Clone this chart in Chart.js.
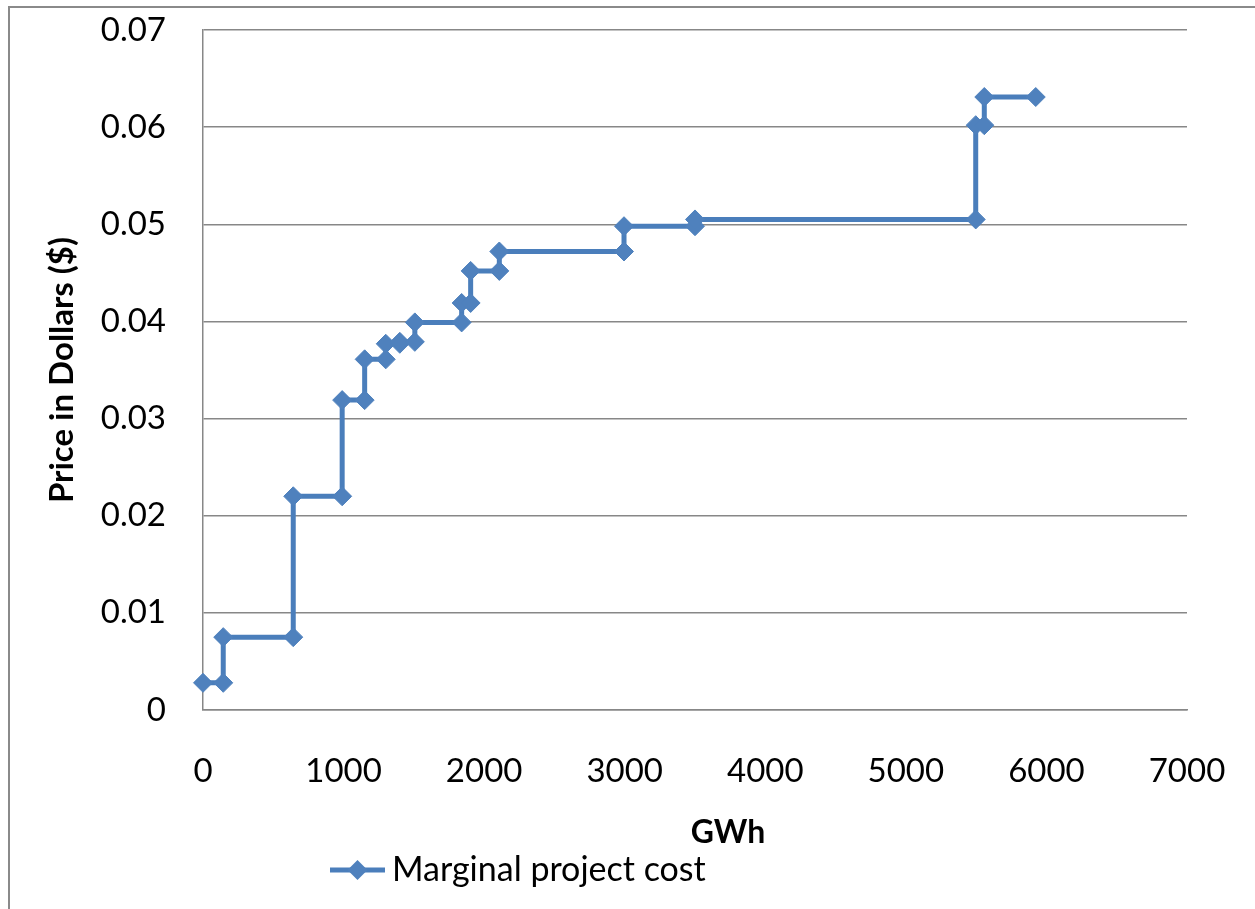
<!DOCTYPE html>
<html>
<head>
<meta charset="utf-8">
<script src="https://cdn.jsdelivr.net/npm/chart.js@4/dist/chart.umd.min.js"></script>
<style>
  html, body { margin: 0; padding: 0; background: #ffffff; }
  #wrap { position: relative; width: 1255px; height: 909px; }
</style>
</head>
<body>
<div id="wrap"><canvas id="c" width="1255" height="909"></canvas></div>
<script>
// ---- Data ----
const seriesLabel = 'Marginal project cost';
const gwh = [0, 144, 144, 642, 642, 990, 990, 1150, 1150, 1300, 1300, 1400, 1400, 1507, 1507, 1840, 1840, 1904, 1904, 2108, 2108, 2995, 2995, 3500, 3500, 5497, 5497, 5558, 5558, 5924];
const price = [0.0028, 0.0028, 0.0075, 0.0075, 0.0220, 0.0220, 0.0319, 0.0319, 0.0361, 0.0361, 0.0377, 0.0377, 0.0379, 0.0379, 0.0399, 0.0399, 0.0419, 0.0419, 0.0452, 0.0452, 0.0472, 0.0472, 0.0498, 0.0498, 0.0505, 0.0505, 0.0602, 0.0602, 0.0631, 0.0631];
const xTickLabels = ['0', '1000', '2000', '3000', '4000', '5000', '6000', '7000'];
const yTickLabels = ['0', '0.01', '0.02', '0.03', '0.04', '0.05', '0.06', '0.07'];
const xTitle = 'GWh';
const yTitle = 'Price in Dollars ($)';

// ---- Styles ----
const LINE_COLOR = '#4a7ebb';
const MARKER_COLOR = '#4f81bd';
const GRID_COLOR = '#878787';
const FONT = 'Lato';

const points = gwh.map((x, i) => ({ x: x, y: price[i] }));

const extrasPlugin = {
  id: 'extras',
  beforeDraw(chart) {
    const ctx = chart.ctx;
    ctx.save();
    ctx.strokeStyle = '#8a8a8a';
    ctx.lineWidth = 2;
    ctx.beginPath();
    ctx.moveTo(9, 909);
    ctx.lineTo(9, 7);
    ctx.lineTo(1255, 7);
    ctx.stroke();
    ctx.restore();
  },
  afterDraw(chart) {
    const ctx = chart.ctx;
    const ds = chart.data.datasets[0];
    ctx.save();
    // x-axis title
    ctx.fillStyle = '#000000';
    ctx.font = 'bold 32px ' + FONT;
    ctx.textAlign = 'center';
    ctx.textBaseline = 'middle';
    ctx.fillText(xTitle, 728, 833);
    // legend
    const ly = 870;
    ctx.strokeStyle = ds.borderColor;
    ctx.lineWidth = 5;
    ctx.beginPath();
    ctx.moveTo(330, ly);
    ctx.lineTo(385, ly);
    ctx.stroke();
    ctx.fillStyle = ds.pointBackgroundColor;
    const r = 10;
    ctx.beginPath();
    ctx.moveTo(357.5, ly - r);
    ctx.lineTo(357.5 + r, ly);
    ctx.lineTo(357.5, ly + r);
    ctx.lineTo(357.5 - r, ly);
    ctx.closePath();
    ctx.fill();
    ctx.fillStyle = '#000000';
    ctx.font = '34px ' + FONT;
    ctx.textAlign = 'left';
    ctx.fillText(ds.label, 392, ly);
    ctx.restore();
  }
};

new Chart(document.getElementById('c'), {
  type: 'line',
  data: {
    datasets: [{
      label: seriesLabel,
      data: points,
      borderColor: LINE_COLOR,
      borderWidth: 5,
      pointStyle: 'rectRot',
      pointRadius: 9.5,
      pointBackgroundColor: MARKER_COLOR,
      pointBorderColor: MARKER_COLOR,
      pointBorderWidth: 1,
      tension: 0,
      fill: false,
      clip: false
    }]
  },
  options: {
    responsive: false,
    devicePixelRatio: 1,
    animation: false,
    layout: { padding: { top: 30, left: 0, right: 68, bottom: 0 } },
    plugins: {
      legend: { display: false },
      tooltip: { enabled: false }
    },
    scales: {
      x: {
        type: 'linear',
        min: 0,
        max: 7000,
        afterFit: (s) => { s.height = 199; s.paddingLeft = 0; s.paddingRight = 0; s.paddingTop = 0; s.paddingBottom = 0; },
        afterBuildTicks: (s) => { s.ticks = xTickLabels.map((t) => ({ value: Number(t) })); },
        ticks: {
          padding: 42,
          color: '#000000',
          font: { family: FONT, size: 33 },
          maxRotation: 0,
          autoSkip: false,
          callback: (v, i) => xTickLabels[i]
        },
        grid: { display: false, drawTicks: false },
        border: { display: true, color: GRID_COLOR, width: 1.5 },
        title: { display: false }
      },
      y: {
        type: 'linear',
        min: 0,
        max: 0.07,
        afterFit: (s) => { s.width = 203; s.paddingLeft = 0; s.paddingRight = 0; s.paddingTop = 0; s.paddingBottom = 0; },
        afterBuildTicks: (s) => { s.ticks = yTickLabels.map((t) => ({ value: Number(t) })); },
        ticks: {
          padding: 37,
          color: '#000000',
          font: { family: FONT, size: 33 },
          autoSkip: false,
          callback: (v, i) => yTickLabels[i]
        },
        grid: { display: true, color: GRID_COLOR, lineWidth: 1.5, drawTicks: false },
        border: { display: true, color: GRID_COLOR, width: 1.5 },
        title: {
          display: true,
          text: yTitle,
          color: '#000000',
          font: { family: FONT, size: 33, weight: 'bold' },
          padding: { top: 43, bottom: 0 }
        }
      }
    }
  },
  plugins: [extrasPlugin]
});
</script>
</body>
</html>
